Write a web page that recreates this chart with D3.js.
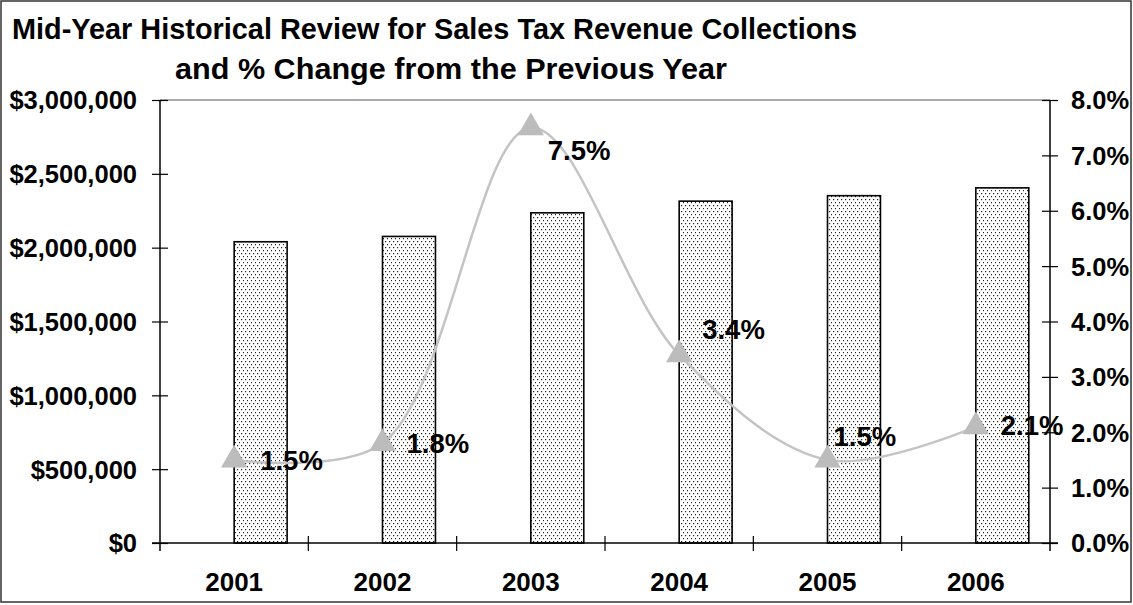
<!DOCTYPE html>
<html>
<head>
<meta charset="utf-8">
<script src="https://cdn.jsdelivr.net/npm/d3@7"></script>
<style>
  html, body { margin: 0; padding: 0; background: #fff; }
  svg { display: block; }
  text { font-family: "Liberation Sans", Arial, Helvetica, sans-serif; font-weight: bold; fill: #000; }
</style>
</head>
<body>
<svg id="chart" width="1133" height="605"></svg>
<script>
// Sales tax collections (mid-year), by year
const years = ["2001", "2002", "2003", "2004", "2005", "2006"];
const revenue = [2040000, 2076000, 2236000, 2315000, 2352000, 2405000];
// Percent change from the previous year
const pctChange = [0.015, 0.018, 0.075, 0.034, 0.015, 0.021];
const pctLabels = ["1.5%", "1.8%", "7.5%", "3.4%", "1.5%", "2.1%"];
// Axis tick values
const revenueTicks = [0, 500000, 1000000, 1500000, 2000000, 2500000, 3000000];
const pctTicks = [0, 0.01, 0.02, 0.03, 0.04, 0.05, 0.06, 0.07, 0.08];
const titleLines = ["Mid-Year Historical Review for Sales Tax Revenue Collections",
                    "and % Change from the Previous Year"];

// Label nudges (dx, dy) relative to each point
const labelOffsets = [[26, 10], [24, 10], [17, 32], [23, -16], [6, -14], [25, 8]];

const W = 1133, H = 605;
const plot = { left: 160, right: 1050, top: 100, bottom: 543 };

const svg = d3.select("#chart");

// dotted fill for the bars
const defs = svg.append("defs");
const pat = defs.append("pattern")
  .attr("id", "dots").attr("patternUnits", "userSpaceOnUse")
  .attr("width", 4).attr("height", 6);
pat.append("rect").attr("width", 4).attr("height", 6).attr("fill", "#fff");
pat.append("rect").attr("x", 1).attr("y", 1).attr("width", 1.2).attr("height", 1.2).attr("fill", "#222");
pat.append("rect").attr("x", 3).attr("y", 4).attr("width", 1.2).attr("height", 1.2).attr("fill", "#222");

// outer frame
svg.append("rect")
  .attr("x", 1).attr("y", 1).attr("width", W - 3).attr("height", H - 4)
  .attr("fill", "none").attr("stroke", "#333").attr("stroke-width", 1.5);

// scales
const x = d3.scaleBand().domain(years).range([plot.left, plot.right]).padding(0);
const y = d3.scaleLinear().domain([0, 3000000]).range([plot.bottom, plot.top]);
const yPct = d3.scaleLinear().domain([0, 0.08]).range([plot.bottom, plot.top]);
const cx = d => x(d) + x.bandwidth() / 2;

// title
svg.append("text").attr("x", 12).attr("y", 39).attr("font-size", 29)
  .attr("textLength", 845).attr("lengthAdjust", "spacingAndGlyphs").text(titleLines[0]);
svg.append("text").attr("x", 175).attr("y", 79).attr("font-size", 29)
  .attr("textLength", 552).attr("lengthAdjust", "spacingAndGlyphs").text(titleLines[1]);

// plot area top edge
svg.append("line")
  .attr("x1", plot.left).attr("x2", plot.right)
  .attr("y1", plot.top).attr("y2", plot.top)
  .attr("stroke", "#555").attr("stroke-width", 1);

// bars: start at the category centre
const barW = x.bandwidth() * 0.357;
svg.append("g").selectAll("rect").data(years).join("rect")
  .attr("x", d => cx(d))
  .attr("y", (d, i) => y(revenue[i]))
  .attr("width", barW)
  .attr("height", (d, i) => y(0) - y(revenue[i]))
  .attr("fill", "url(#dots)")
  .attr("stroke", "#000").attr("stroke-width", 1.6);

// left axis
const leftAxis = svg.append("g")
  .attr("transform", `translate(${plot.left},0)`)
  .call(d3.axisLeft(y).tickValues(revenueTicks).tickFormat(d3.format("$,.0f"))
        .tickSizeInner(8).tickSizeOuter(0).tickPadding(15));
leftAxis.select(".domain").remove();
leftAxis.selectAll(".tick line").attr("x1", 8).attr("stroke", "#000").attr("stroke-width", 1.2);
leftAxis.selectAll(".tick text").attr("font-size", 25.5).attr("dy", "0.35em");
leftAxis.attr("font-family", null).attr("font-size", null);

// right axis
const rightAxis = svg.append("g")
  .attr("transform", `translate(${plot.right},0)`)
  .call(d3.axisRight(yPct).tickValues(pctTicks).tickFormat(d3.format(".1%"))
        .tickSizeInner(8).tickSizeOuter(0).tickPadding(13));
rightAxis.select(".domain").remove();
rightAxis.selectAll(".tick line").attr("x1", -8).attr("stroke", "#000").attr("stroke-width", 1.2);
rightAxis.selectAll(".tick text").attr("font-size", 25.5).attr("dy", "0.35em");
rightAxis.attr("font-family", null).attr("font-size", null);

// vertical axis lines (extend through the x-axis tick length)
[plot.left, plot.right].forEach(px => {
  svg.append("line")
    .attr("x1", px).attr("x2", px)
    .attr("y1", plot.top).attr("y2", plot.bottom + 8)
    .attr("stroke", "#000").attr("stroke-width", 1.5);
});

// category axis
svg.append("line")
  .attr("x1", plot.left - 8).attr("x2", plot.right + 8)
  .attr("y1", plot.bottom).attr("y2", plot.bottom)
  .attr("stroke", "#000").attr("stroke-width", 1.5);
const bounds = years.slice(1).map(d => x(d));
svg.append("g").selectAll("line").data(bounds).join("line")
  .attr("x1", d => d).attr("x2", d => d)
  .attr("y1", plot.bottom - 7).attr("y2", plot.bottom + 8)
  .attr("stroke", "#000").attr("stroke-width", 1.2);
svg.append("g").selectAll("text").data(years).join("text")
  .attr("x", d => cx(d)).attr("y", 591)
  .attr("text-anchor", "middle").attr("font-size", 26)
  .text(d => d);

// smoothed % change line
const pts = years.map((d, i) => [cx(d), yPct(pctChange[i])]);
svg.append("path")
  .attr("d", d3.line().curve(d3.curveCatmullRom.alpha(0.5))(pts))
  .attr("fill", "none").attr("stroke", "#c4c4c4").attr("stroke-width", 2.5);

// triangle markers
svg.append("g").selectAll("path").data(pts).join("path")
  .attr("transform", d => `translate(${d[0]},${d[1]})`)
  .attr("d", d3.symbol(d3.symbolTriangle, 300))
  .attr("fill", "#bcbcbc");

// value labels
svg.append("g").selectAll("text").data(pts).join("text")
  .attr("x", (d, i) => d[0] + labelOffsets[i][0])
  .attr("y", (d, i) => d[1] + labelOffsets[i][1])
  .attr("font-size", 27.5)
  .text((d, i) => pctLabels[i]);
</script>
</body>
</html>
